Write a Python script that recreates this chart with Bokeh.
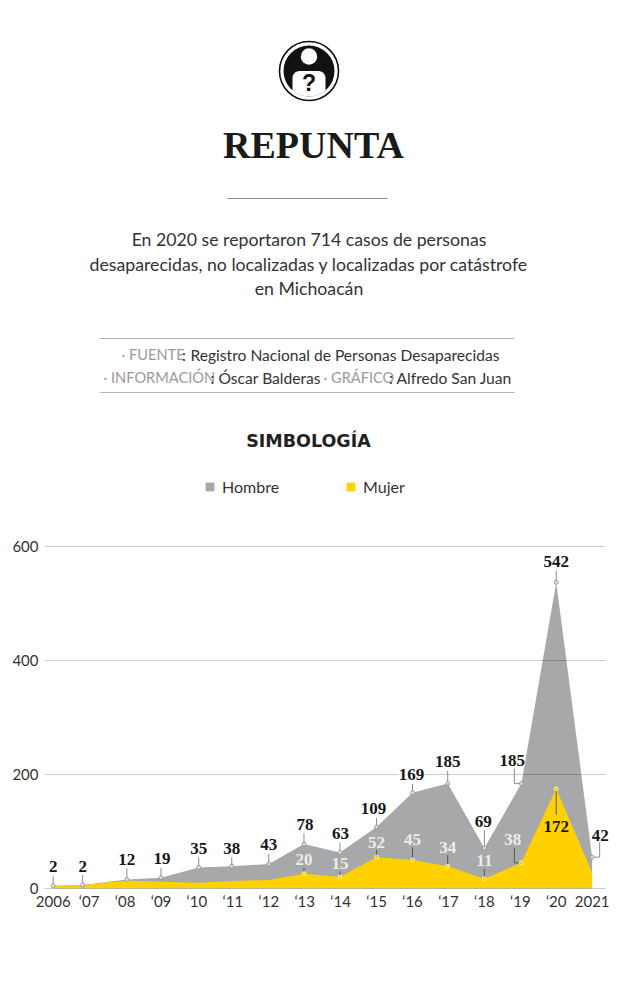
import numpy as np
from bokeh.plotting import figure
from bokeh.models import Range1d, FixedTicker
from bokeh.embed import file_html
from bokeh.resources import INLINE
from bokeh.core.properties import value

# ---- data -------------------------------------------------------------
year_ticks = list(range(2006, 2022))
year_labels = ["2006", "‘07", "‘08", "‘09", "‘10", "‘11", "‘12", "‘13",
               "‘14", "‘15", "‘16", "‘17", "‘18", "‘19", "‘20", "2021"]
# positions of the vertices as drawn in the picture
years_drawn = [2006, 2006.82, 2008.05, 2009.0, 2010.05, 2010.97, 2012.0, 2012.98,
               2013.98, 2015.0, 2016.0, 2016.98, 2018.0, 2019.03, 2020.0, 2021.0]
# heights as drawn
hombre = [5, 6, 16, 19, 37, 39, 43, 78, 63, 108, 168, 184, 71, 184, 537, 55]
mujer = [5, 6, 14, 12, 10, 13, 15, 26, 20, 55, 50, 39, 17, 45, 175, 28]
# values as printed
hombre_text = ["2", "2", "12", "19", "35", "38", "43", "78", "63", "109", "169",
               "185", "69", "185", "542", "42"]
mujer_text = ["20", "15", "52", "45", "34", "11", "38", "172"]
mujer_first = 7
y_ticks = [0, 200, 400, 600]

# ---- layout of labels (px) --------------------------------------------
h_dx = [0, 0, 0, 1, 0, 0, 0, 1, 0.5, -3, -1, 0, -1, -9, 0, 8]
h_dy = [-19, -19, -20, -19, -19, -18, -19, -19.5, -19, -18, -18, -22, -27, -23, -21, -22]
m_dx = [0, 0, 0, 0, 0, 0, -8.5, 0]
m_dy = [-14, -13.6, -15, -20.5, -19, -18, -23, 38]

PX_YEAR = 35.93
PX_UNIT = 0.57
C_GREY = "#a7a8aa"
C_YEL = "#ffd100"
SERIF = value("Liberation Serif")
SANS = value("Lato")

# ---- figure: frame spans page x 44-610, page y 8-888 ------------------
x0 = 2006 - (52.7 - 44) / PX_YEAR
x1 = 2006 + (610 - 52.7) / PX_YEAR
grid_end = 2006 + (605 - 52.7) / PX_YEAR
p = figure(width=610, height=992, x_range=Range1d(x0, x1), y_range=Range1d(0, 880 / PX_UNIT),
           toolbar_location=None, output_backend="svg", min_border_left=44, min_border_right=0,
           min_border_top=8, min_border_bottom=104, outline_line_color=None,
           background_fill_color="white")
p.extra_x_ranges = {"px": Range1d(44, 610)}
p.extra_y_ranges = {"px": Range1d(888, 8)}
p.xgrid.visible = False
p.ygrid.visible = False
PX = dict(x_range_name="px", y_range_name="px")

# logo
p.circle([308.5], [70.5], radius=29.5, fill_color="white", line_color="#111111", line_width=1.6, **PX)
p.circle([308.5], [70.5], radius=25.5, fill_color="#111111", line_color=None, **PX)
p.circle([308.5], [56], radius=8.2, fill_color="white", line_color=None, **PX)
t = np.linspace(np.arccos(16.5 / 25.5), np.pi - np.arccos(16.5 / 25.5), 20)
corner = np.linspace(np.pi, 1.5 * np.pi, 8)
bx = np.concatenate([308.5 + 25.5 * np.cos(t), 299 + 7 * np.cos(corner), 318 - 7 * np.cos(corner[::-1])])
by = np.concatenate([70.5 + 25.5 * np.sin(t), 77.5 + 7 * np.sin(corner), 77.5 + 7 * np.sin(corner[::-1])])
p.patch(bx, by, fill_color="white", line_color=None, **PX)
p.text([308.5], [82], text=["?"], text_font=value("Liberation Sans"), text_font_style="bold",
       text_font_size="23px", text_align="center", text_baseline="middle", text_color="#111111", **PX)

p.text([313], [144], text=["REPUNTA"], text_font=SERIF, text_font_style="bold",
       text_font_size="38px", text_align="center", text_baseline="middle", text_color="#1a1a1a", **PX)
p.segment([227], [198], [387], [198], line_color="#8a8a8a", line_width=1, **PX)

para = ["En 2020 se reportaron 714 casos de personas",
        "desaparecidas, no localizadas y localizadas por catástrofe",
        "en Michoacán"]
p.text([308.5] * 3, [239, 263.5, 288], text=para, text_font=SANS, text_font_size="17.7px",
       text_align="center", text_baseline="middle", text_color="#333333", **PX)

p.segment([99, 99], [338, 392], [514, 514], [338, 392], line_color="#b5b5b5", line_width=1, **PX)
p.text([121, 103, 323], [354, 377, 377], text=["· FUENTE", "· INFORMACIÓN", "· GRÁFICO"],
       text_font=SANS, text_font_size="14.6px", text_align="left", text_baseline="middle",
       text_color="#9a9a9a", **PX)
p.text([181.5, 210, 388.5], [354, 377, 377], text=[":", ":", ":"],
       text_font=SANS, text_font_size="15.6px", text_align="left", text_baseline="middle",
       text_color="#333333", **PX)
p.text([190, 218, 396], [354, 377, 377],
       text=["Registro Nacional de Personas Desaparecidas", "Óscar Balderas", "Alfredo San Juan"],
       text_font=SANS, text_font_size="15.6px", text_align="left", text_baseline="middle",
       text_color="#333333", **PX)
p.text([308], [440], text=["SIMBOLOGÍA"], text_font=value("DejaVu Sans"), text_font_style="bold",
       text_font_size="17.5px", text_align="center", text_baseline="middle", text_color="#222222", **PX)

# ---- chart -------------------------------------------------------------
p.varea(years_drawn, y1=[0] * 16, y2=hombre, fill_color=C_GREY, legend_label="Hombre")
p.varea(years_drawn, y1=[0] * 16, y2=mujer, fill_color=C_YEL, legend_label="Mujer")

rules = p.segment([x0] * 4, y_ticks, [grid_end] * 4, y_ticks, line_color="black", line_alpha=0.2, line_width=1)
rules.level = "guide"

# leaders
ELBOW = {13: -7 / PX_YEAR, 15: 7.5 / PX_YEAR}
xs, ys = [], []
for i, (xv, v, dy) in enumerate(zip(years_drawn, hombre, h_dy)):
    if i in ELBOW:
        up = 15 / PX_UNIT
        xs.append([xv, xv + ELBOW[i], xv + ELBOW[i]])
        ys.append([v, v, v + up])
    else:
        xs.append([xv, xv])
        ys.append([v, v + (-dy - 9) / PX_UNIT])
r = p.multi_line(xs, ys, line_color="#8c8c8c", line_width=1)
r.level = "guide"

mx = years_drawn[mujer_first:mujer_first + len(mujer_text)]
my = mujer[mujer_first:mujer_first + len(mujer_text)]
xs, ys = [], []
for i, (xv, v, dy) in enumerate(zip(mx, my, m_dy)):
    if m_dx[i] != 0:
        xs.append([xv, xv - 7 / PX_YEAR, xv - 7 / PX_YEAR])
        ys.append([v, v, v + 15 / PX_UNIT])
    elif dy > 0:
        xs.append([xv, xv])
        ys.append([v, v - (dy - 12) / PX_UNIT])
    else:
        xs.append([xv, xv])
        ys.append([v, v + (-dy - 8) / PX_UNIT])
r = p.multi_line(xs, ys, line_color="#555555", line_width=1)
r.level = "guide"

r = p.scatter(years_drawn, hombre, size=4, marker="circle", fill_color="#dddddd", line_color="#8f8f8f", line_width=0.8)
r.level = "guide"
r = p.scatter(mx, my, size=4, marker="circle", fill_color=C_YEL, line_color="#fff4c4", line_width=0.8)
r.level = "guide"

lab = p.text(years_drawn, hombre, text=hombre_text, x_offset=h_dx, y_offset=h_dy,
             text_font=SERIF, text_font_style="bold", text_font_size="17px",
             text_align="center", text_baseline="middle", text_color="#161616",
             background_fill_color="white")
lab.level = "overlay"
m_cols = ["#ececec"] * (len(mujer_text) - 1) + ["#161616"]
lab = p.text(mx, my, text=mujer_text, x_offset=m_dx, y_offset=m_dy,
             text_font=SERIF, text_font_style="bold", text_font_size="17px",
             text_align="center", text_baseline="middle", text_color=m_cols)
lab.level = "overlay"

# axes
p.xaxis.ticker = FixedTicker(ticks=year_ticks)
p.xaxis.major_label_overrides = dict(zip(year_ticks, year_labels))
p.yaxis.ticker = FixedTicker(ticks=y_ticks)
for ax in (p.xaxis[0], p.yaxis[0]):
    ax.axis_line_color = None
    ax.major_tick_line_color = None
    ax.minor_tick_line_color = None
    ax.major_tick_out = 0
    ax.major_tick_in = 0
    ax.major_label_text_font = "Lato"
    ax.major_label_text_font_size = "15px"
    ax.major_label_text_color = "#333333"
    ax.major_label_standoff = 6
p.xaxis[0].major_label_standoff = 3

# legend
leg = p.legend[0]
leg.location = (160, 392)
leg.orientation = "horizontal"
leg.background_fill_alpha = 0
leg.border_line_color = None
leg.padding = 0
leg.margin = 0
leg.spacing = 66
leg.glyph_width = 11
leg.glyph_height = 11
leg.label_standoff = 7
leg.label_text_font = "Lato"
leg.label_text_font_size = "16px"
leg.label_text_color = "#333333"

open("out.html", "w").write(file_html(p, INLINE))
